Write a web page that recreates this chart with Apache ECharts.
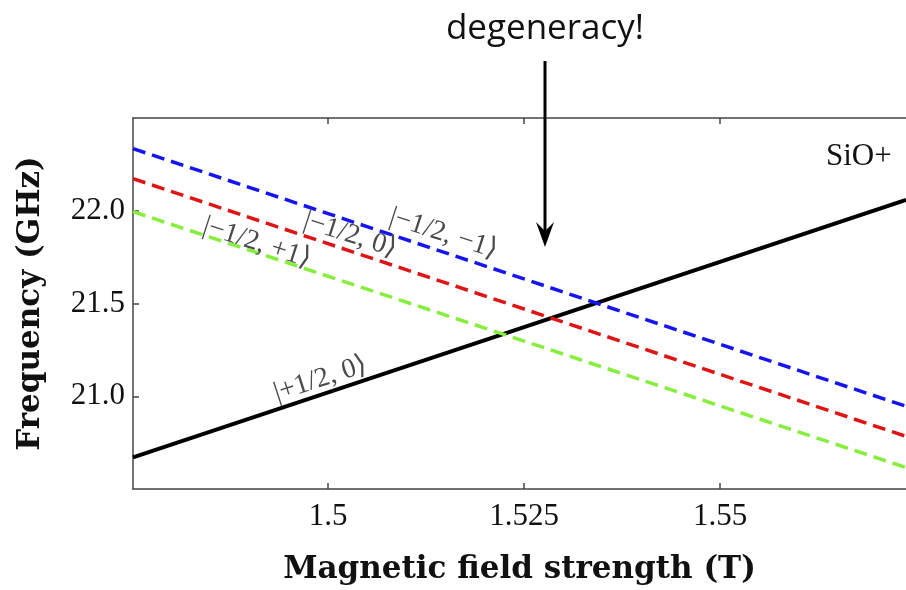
<!DOCTYPE html>
<html>
<head>
<meta charset="utf-8">
<script src="https://cdn.jsdelivr.net/npm/echarts@6/dist/echarts.min.js"></script>
<style>
  html, body { margin: 0; padding: 0; background: #fff; }
  #chart { width: 906px; height: 590px; }
</style>
</head>
<body>
<div id="chart"></div>
<script>
// magnetic field (T) at the two ends of the plotted range
const fieldT = [1.4751, 1.5737]
// transition frequencies (GHz) at those ends
const plusHalfZero = [20.670, 22.059]
const minusHalfMinusOne = [22.335, 20.946]
const minusHalfZero = [22.173, 20.784]
const minusHalfPlusOne = [21.995, 20.616]

const xTicks = [1.5, 1.525, 1.55]
const yTicks = [21.0, 21.5, 22.0]

// state labels: [text, field, freq, angle]
const stateLabels = [
  ['|+1/2, 0⟩', 1.4990, 21.092, 18],
  ['|−1/2, +1⟩', 1.4909, 21.827, -18],
  ['|−1/2, 0⟩', 1.5028, 21.870, -18],
  ['|−1/2, −1⟩', 1.5147, 21.876, -18]
]
const arrowField = 1.5277
const arrowTipFreq = 21.805

const zip = (xs, ys) => xs.map((x, i) => [x, ys[i]])

const serif = '"Liberation Serif", "DejaVu Serif", serif'
const axisColor = '#444'

const chart = echarts.init(document.getElementById('chart'), null, { renderer: 'canvas' })

const dashed = (name, color, values) => ({
  name, type: 'line', data: zip(fieldT, values), showSymbol: false, silent: true,
  lineStyle: { color, width: 3.5, type: [13, 7] }, z: 3
})

const ketPoints = (list) => list.map(([text, x, y, angle]) => ({
  coord: [x, y], symbolSize: 0,
  label: {
    show: true, formatter: text, rotate: angle, position: 'inside',
    fontFamily: serif, fontSize: 28, color: '#4a4a4a'
  }
}))

const titleStyle = { fontFamily: '"DejaVu Serif", serif', fontWeight: 'bold', fontSize: 31, color: '#111' }

chart.setOption({
  animation: false,
  grid: { left: 133, top: 118, right: 0, bottom: 101, outerBoundsMode: 'none' },
  xAxis: [{
    type: 'value', min: fieldT[0], max: fieldT[1], position: 'bottom',
    name: 'Magnetic field strength (T)', nameLocation: 'middle', nameGap: 65,
    nameTextStyle: titleStyle,
    axisLine: { lineStyle: { color: axisColor, width: 1.5 } },
    axisTick: { inside: true, length: 6, customValues: xTicks, lineStyle: { color: axisColor, width: 1.5 } },
    axisLabel: { customValues: xTicks, margin: 12, fontFamily: serif, fontSize: 31, color: '#111' },
    splitLine: { show: false }
  }, {
    type: 'value', min: fieldT[0], max: fieldT[1], position: 'top',
    axisLine: { lineStyle: { color: axisColor, width: 1.5 } },
    axisTick: { inside: true, length: 6, customValues: xTicks, lineStyle: { color: axisColor, width: 1.5 } },
    axisLabel: { show: false },
    splitLine: { show: false }
  }],
  yAxis: {
    type: 'value', min: 20.5, max: 22.5,
    name: 'Frequency (GHz)', nameLocation: 'middle', nameGap: 87,
    nameTextStyle: titleStyle,
    axisLine: { lineStyle: { color: axisColor, width: 1.5 } },
    axisTick: { inside: true, length: 6, customValues: yTicks, lineStyle: { color: axisColor, width: 1.5 } },
    axisLabel: { customValues: yTicks, margin: 8, fontFamily: serif, fontSize: 31, color: '#111',
      formatter: v => v.toFixed(1) },
    splitLine: { show: false }
  },
  series: [
    {
      name: '|+1/2,0>', type: 'line', data: zip(fieldT, plusHalfZero), showSymbol: false, silent: true,
      lineStyle: { color: '#000', width: 4 }, z: 2,
      markPoint: { symbol: 'circle', silent: true, data: ketPoints(stateLabels) }
    },
    dashed('|-1/2,-1>', '#1515f0', minusHalfMinusOne),
    dashed('|-1/2,0>', '#dd1515', minusHalfZero),
    dashed('|-1/2,+1>', '#86ee3c', minusHalfPlusOne)
  ]
})

// annotations placed from data coordinates
const tip = chart.convertToPixel({ xAxisIndex: 0, yAxisIndex: 0 }, [arrowField, arrowTipFreq])
const ax = Math.round(tip[0])
const ty = tip[1]
chart.setOption({
  graphic: [
    { type: 'text', x: ax, y: 12, style: { text: 'degeneracy!', align: 'center', verticalAlign: 'top',
      font: '35px "Open Sans", "Noto Sans", sans-serif', fill: '#111' }, z: 10 },
    { type: 'line', shape: { x1: ax, y1: 61, x2: ax, y2: ty - 16 }, style: { stroke: '#000', lineWidth: 3 }, z: 10 },
    { type: 'polygon', shape: { points: [[ax, ty], [ax - 9, ty - 25], [ax, ty - 16], [ax + 9, ty - 25]] },
      style: { fill: '#000' }, z: 10 },
    { type: 'text', x: 826, y: 141, style: { text: 'SiO+', font: '31px ' + serif, fill: '#111' }, z: 10 }
  ]
})
</script>
</body>
</html>
